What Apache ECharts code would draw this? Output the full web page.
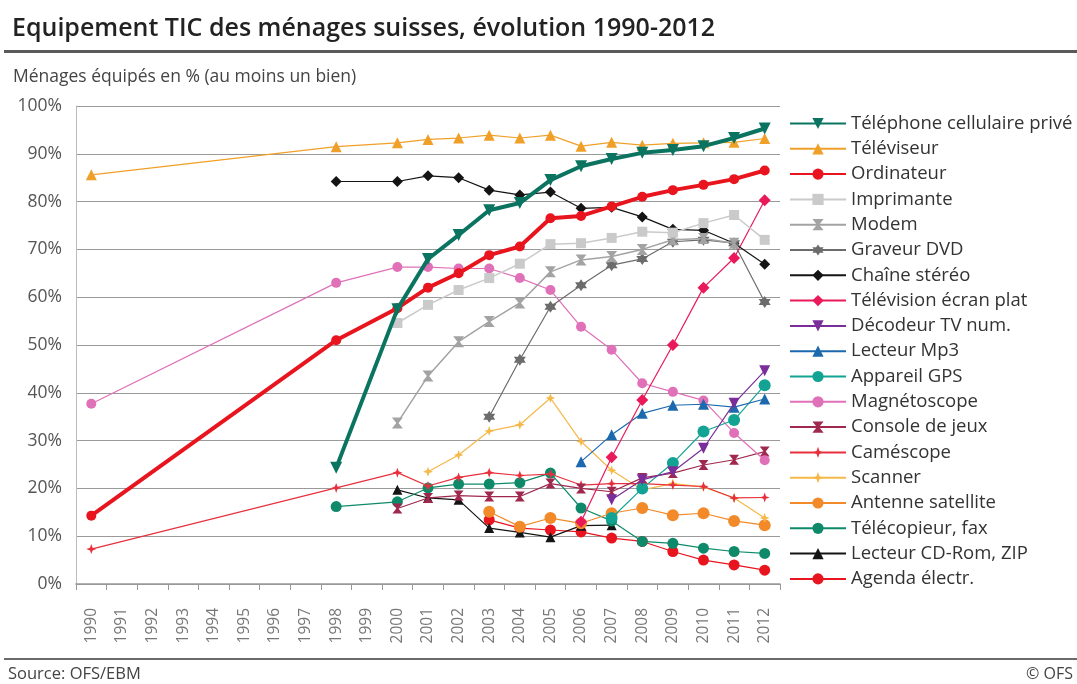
<!DOCTYPE html>
<html>
<head>
<meta charset="utf-8">
<script src="https://cdn.jsdelivr.net/npm/echarts@6/dist/echarts.min.js"></script>
<style>
  html, body { margin: 0; padding: 0; background: #fff; }
  #chart { width: 1077px; height: 684px; }
</style>
</head>
<body>
<div id="chart"></div>
<script>
// années (axe X)
var years = ['1990','1991','1992','1993','1994','1995','1996','1997','1998','1999','2000',
  '2001','2002','2003','2004','2005','2006','2007','2008','2009','2010','2011','2012'];
var yTicks = [0, 10, 20, 30, 40, 50, 60, 70, 80, 90, 100];

var _ = null;
// valeurs en %, une entrée par année 1990..2012
var telephone   = [_,_,_,_,_,_,_,_, 24.3,_, 57.5, 68, 73, 78.2, 79.7, 84.5, 87.4, 88.9, 90.2, 90.8, 91.6, 93.3, 95.3];
var televiseur  = [85.6,_,_,_,_,_,_,_, 91.5,_, 92.3, 93, 93.3, 93.9, 93.3, 93.9, 91.6, 92.4, 91.8, 92.2, 92.3, 92.4, 93.2];
var ordinateur  = [14.3,_,_,_,_,_,_,_, 51,_, 57.7, 62, 65, 68.8, 70.6, 76.5, 77, 79, 81, 82.4, 83.5, 84.7, 86.5];
var imprimante  = [_,_,_,_,_,_,_,_,_,_, 54.6, 58.4, 61.5, 64, 67, 71.1, 71.3, 72.4, 73.7, 73.5, 75.5, 77.2, 72];
var modem       = [_,_,_,_,_,_,_,_,_,_, 33.7, 43.5, 50.7, 54.9, 58.8, 65.3, 67.8, 68.5, 70, 72, 72.3, 71.3, _];
var graveur     = [_,_,_,_,_,_,_,_,_,_,_,_,_, 35, 46.9, 58, 62.5, 66.7, 68, 71.6, 72, 71.3, 59];
var chaine      = [_,_,_,_,_,_,_,_, 84.2,_, 84.2, 85.4, 85, 82.4, 81.4, 82, 78.6, 78.8, 76.8, 74.2, 74, 71.3, 66.9];
var ecranPlat   = [_,_,_,_,_,_,_,_,_,_,_,_,_,_,_,_, 13, 26.5, 38.5, 50, 62, 68.2, 80.3];
var decodeur    = [_,_,_,_,_,_,_,_,_,_,_,_,_,_,_,_,_, 17.6, 21.8, 23.5, 28.4, 37.8, 44.6];
var mp3         = [_,_,_,_,_,_,_,_,_,_,_,_,_,_,_,_, 25.6, 31.2, 35.7, 37.4, 37.6, 37, 38.7];
var gps         = [_,_,_,_,_,_,_,_,_,_,_,_,_,_,_,_,_, 13.8, 20, 25.3, 31.9, 34.3, 41.6];
var magneto     = [37.7,_,_,_,_,_,_,_, 63,_, 66.3, 66.3, 66, 66, 64, 61.5, 53.8, 49, 42, 40.2, 38.4, 31.6, 25.9];
var console_    = [_,_,_,_,_,_,_,_,_,_, 15.8, 18, 18.5, 18.3, 18.3, 21, 20, 19.3, 22.2, 23.2, 24.9, 26, 27.7];
var camescope   = [7.3,_,_,_,_,_,_,_, 20.1,_, 23.3, 20.5, 22.3, 23.3, 22.7, 23, 20.7, 21, 21, 20.7, 20.4, 18, 18.1];
var scanner     = [_,_,_,_,_,_,_,_,_,_,_, 23.5, 27, 32, 33.3, 38.9, 29.8, 23.8, 19.7, 21, 20.3, 18, 13.8];
var antenne     = [_,_,_,_,_,_,_,_,_,_,_,_,_, 15.1, 12, 13.8, 12.7, 14.8, 15.9, 14.4, 14.8, 13.2, 12.3];
var fax         = [_,_,_,_,_,_,_,_, 16.2,_, 17.2, 20.1, 20.9, 20.9, 21.2, 23.2, 15.9, 13.2, 8.9, 8.5, 7.5, 6.8, 6.4];
var cdrom       = [_,_,_,_,_,_,_,_,_,_, 19.7, 18, 17.6, 11.7, 10.8, 9.8, 12.2, 12.3, _,_,_,_,_];
var agenda      = [_,_,_,_,_,_,_,_,_,_,_,_,_, 13.4, 11.7, 11.3, 10.9, 9.6, 8.9, 6.8, 5, 4, 2.9];

var hourglass = 'path://M0,0 L10,0 L6,5 L10,10 L0,10 L4,5 Z';
var star6 = 'path://M5,0 L6.5,2.5 L9.5,2.5 L8,5 L9.5,7.5 L6.5,7.5 L5,10 L3.5,7.5 L0.5,7.5 L2,5 L0.5,2.5 L3.5,2.5 Z';
var star4 = 'path://M5,0 L6.3,3.7 L10,5 L6.3,6.3 L5,10 L3.7,6.3 L0,5 L3.7,3.7 Z';

var mk = function (name, data, color, symbol, size, width, rotate) {
  return {
    name: name,
    type: 'line',
    data: data,
    connectNulls: true,
    symbol: symbol,
    symbolSize: size,
    symbolRotate: rotate || 0,
    showAllSymbol: true,
    lineStyle: { color: color, width: width },
    itemStyle: { color: color },
    emphasis: { disabled: true }
  };
};

// l'ordre du tableau = ordre de la légende ; les premiers sont dessinés au-dessus
var seriesList = [
  mk('Téléphone cellulaire privé', telephone, '#0b7461', 'triangle', 12, 4, 180),
  mk('Téléviseur', televiseur, '#f0a028', 'triangle', 11, 1.2),
  mk('Ordinateur', ordinateur, '#e8141e', 'circle', 10, 4),
  mk('Imprimante', imprimante, '#cacaca', 'rect', 10, 1.5),
  mk('Modem', modem, '#a3a3a3', hourglass, 11, 1.5),
  mk('Graveur DVD', graveur, '#6c6c6c', star6, 12, 1.2),
  mk('Chaîne stéréo', chaine, '#141414', 'diamond', 11, 1.2),
  mk('Télévision écran plat', ecranPlat, '#ea1a5a', 'diamond', 12, 1.2),
  mk('Décodeur TV num.', decodeur, '#7a2e9a', 'triangle', 11, 1.2, 180),
  mk('Lecteur Mp3', mp3, '#1c6aad', 'triangle', 11, 1.2),
  mk('Appareil GPS', gps, '#13a394', 'circle', 12, 1.2),
  mk('Magnétoscope', magneto, '#e070b8', 'circle', 10, 1.2),
  mk('Console de jeux', console_, '#a0284e', hourglass, 10, 1.2),
  mk('Caméscope', camescope, '#e8303c', star4, 10, 1.2),
  mk('Scanner', scanner, '#f5b849', star4, 10, 1.2),
  mk('Antenne satellite', antenne, '#f28a2a', 'circle', 12, 1.2),
  mk('Télécopieur, fax', fax, '#0e8a6a', 'circle', 11, 1.2),
  mk('Lecteur CD-Rom, ZIP', cdrom, '#141414', 'triangle', 10, 1.2),
  mk('Agenda électr.', agenda, '#e8141e', 'circle', 11, 1.2)
];
seriesList.forEach(function (s, i) { s.z = 30 - i; });

var chartDom = document.getElementById('chart');
var myChart = echarts.init(chartDom);
var option = {
  animation: false,
  textStyle: { fontFamily: 'Open Sans, sans-serif' },
  title: [{
    text: 'Equipement TIC des ménages suisses, évolution 1990-2012',
    left: 7, top: 11,
    textStyle: { fontFamily: 'Open Sans', fontWeight: 600, fontSize: 25, color: '#222' }
  }, {
    text: 'Ménages équipés en % (au moins un bien)',
    left: 8, top: 63,
    textStyle: { fontFamily: 'Open Sans', fontWeight: 'normal', fontSize: 17.5, color: '#444' }
  }],
  graphic: [
    { type: 'rect', shape: { x: 4, y: 50, width: 1073, height: 3 }, style: { fill: '#5a5a5a' } },
    { type: 'rect', shape: { x: 4, y: 658, width: 1073, height: 2 }, style: { fill: '#6a6a6a' } },
    { type: 'text', left: 8, top: 666, style: { text: 'Source: OFS/EBM', fontSize: 16.5, fill: '#444', fontFamily: 'Open Sans' } },
    { type: 'text', right: 4, top: 666, style: { text: '© OFS', fontSize: 16, fill: '#444', fontFamily: 'Open Sans' } }
  ],
  legend: {
    orient: 'vertical',
    left: 784, top: 109,
    itemWidth: 56, itemHeight: 14, itemGap: 6.3,
    textStyle: { fontSize: 18.5, color: '#333', fontFamily: 'Open Sans' },
    data: seriesList.map(function (s) { return s.name; })
  },
  grid: { left: 76, top: 106, width: 704, height: 478, containLabel: false },
  xAxis: {
    type: 'category',
    data: years,
    boundaryGap: true,
    axisLine: { lineStyle: { color: '#999', width: 1.5 } },
    axisTick: { show: true, length: 6, lineStyle: { color: '#999' } },
    axisLabel: { rotate: 90, interval: 0, margin: 24, fontSize: 15.5, color: '#777' }
  },
  yAxis: {
    type: 'value',
    min: yTicks[0], max: yTicks[yTicks.length - 1], interval: 10,
    axisLine: { show: true, lineStyle: { color: '#bbb' } },
    axisTick: { show: false },
    axisLabel: { formatter: '{value}%', fontSize: 17.5, color: '#555', margin: 14 },
    splitLine: { lineStyle: { color: '#9a9a9a', width: 1 } }
  },
  series: seriesList
};
myChart.setOption(option);
</script>
</body>
</html>
